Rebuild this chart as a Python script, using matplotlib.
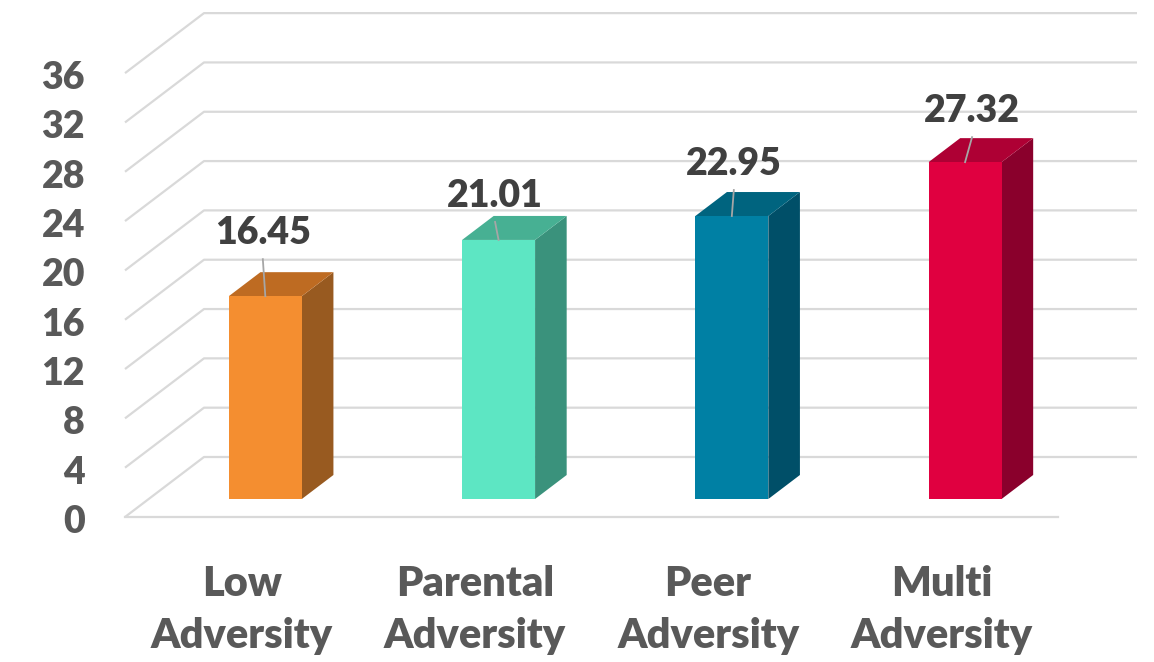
import matplotlib
matplotlib.use("Agg")
import matplotlib.pyplot as plt
from matplotlib.patches import Polygon

# ---- data ----
categories = ["Low\nAdversity", "Parental\nAdversity", "Peer\nAdversity", "Multi\nAdversity"]
values = [16.45, 21.01, 22.95, 27.32]
value_labels = ["16.45", "21.01", "22.95", "27.32"]
yticks = [0, 4, 8, 12, 16, 20, 24, 28, 32, 36]

# ---- styling ----
front_colors = ["#F48E30", "#5DE6C3", "#0080A4", "#E00040"]
top_colors = ["#BE6B22", "#47B093", "#00647F", "#AE0034"]
side_colors = ["#985A20", "#3A927C", "#004F68", "#8A002C"]
grid_color = "#D9D9D9"
tick_color = "#595959"
label_color = "#404040"
FONT = ["Lato", "DejaVu Sans"]
WEIGHT = "heavy"

W, H, DPI = 1154, 662, 100
X0_PX, Y0_PX = 125, 517          # front-left corner of the floor
SLOT_PX = 233.25                 # width of one category slot
UNIT_PX = 12.33                  # pixels per value unit
DEPTH_PX = (79, -60)             # oblique offset front -> back wall

# oblique depth offsets in data units
DX = DEPTH_PX[0] / SLOT_PX
DV = -DEPTH_PX[1] / UNIT_PX

fig = plt.figure(figsize=(W / DPI, H / DPI), dpi=DPI)
ax = fig.add_axes([0, 0, 1, 1])
ax.set_xlim(-X0_PX / SLOT_PX, (W - X0_PX) / SLOT_PX)
ax.set_ylim((Y0_PX - H) / UNIT_PX, Y0_PX / UNIT_PX)
ax.axis("off")

n = len(categories)

# gridlines: diagonal on the side wall, then along the back wall
for t in yticks:
    ax.plot([0, DX, n + DX], [t, t + DV, t + DV], color=grid_color, lw=1.6,
            solid_capstyle="butt", zorder=1)
    ax.text(-40 / SLOT_PX, t - 16 / UNIT_PX, str(t), ha="right", va="baseline",
            fontsize=27, fontweight=WEIGHT, color=tick_color, family=FONT)
# front edge of the floor
ax.plot([0, n], [0, 0], color=grid_color, lw=1.6, zorder=1)

# 3D bars
d0, d1 = 0.3, 0.7
bw = 73 / SLOT_PX
label_offsets_px = [(-2.5, 52), (-3.5, 33), (2, 41), (7, 40)]
for i, (v, lab) in enumerate(zip(values, value_labels)):
    cx = i + 0.5 + d0 * DX
    xl, xr = cx - bw / 2, cx + bw / 2
    yb, yt = d0 * DV, v + d0 * DV
    ox, oy = (d1 - d0) * DX, (d1 - d0) * DV
    front = Polygon([(xl, yb), (xr, yb), (xr, yt), (xl, yt)], closed=True,
                    facecolor=front_colors[i], edgecolor="none", zorder=3)
    side = Polygon([(xr, yb), (xr + ox, yb + oy), (xr + ox, yt + oy), (xr, yt)],
                   closed=True, facecolor=side_colors[i], edgecolor="none", zorder=3)
    top = Polygon([(xl, yt), (xr, yt), (xr + ox, yt + oy), (xl + ox, yt + oy)],
                  closed=True, facecolor=top_colors[i], edgecolor="none", zorder=3)
    for p in (side, top, front):
        ax.add_patch(p)

    # value label with a leader line to the bar's top edge
    lx_px, ly_px = label_offsets_px[i]
    tx = cx + lx_px / SLOT_PX
    ty = yt + ly_px / UNIT_PX
    ax.plot([tx, cx], [ty - 15 / UNIT_PX, yt], color="#A6A6A6", lw=1.3, zorder=4)
    ax.text(tx, ty, lab, ha="center", va="baseline", fontsize=27,
            fontweight=WEIGHT, color=label_color, family=FONT, zorder=5)

# category labels along the front edge
for i, c in enumerate(categories):
    ax.text(i + 0.5, -48 / UNIT_PX, c, ha="center", va="top", fontsize=30,
            fontweight=WEIGHT, color=tick_color, family=FONT, linespacing=1.45)

fig.savefig("out.png", dpi=DPI)
